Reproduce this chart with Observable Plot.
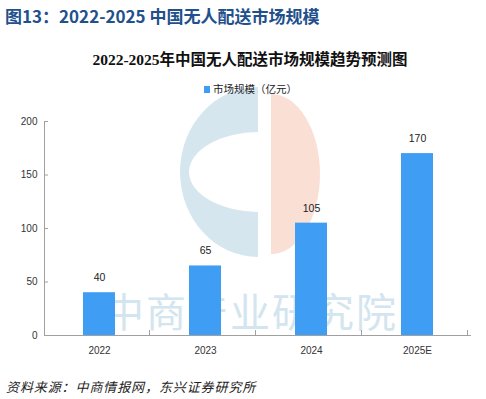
<!DOCTYPE html>
<html><head><meta charset="utf-8">
<script src="https://cdn.jsdelivr.net/npm/d3@7"></script>
<script src="https://cdn.jsdelivr.net/npm/@observablehq/plot@0.6"></script>
<style>
body{margin:0;background:#fff;}
#wrap{position:relative;width:486px;height:399px;overflow:hidden;font-family:"Noto Sans CJK SC",sans-serif;}
.abs{position:absolute;white-space:nowrap;}
#t1{left:5px;top:3px;font-size:17px;font-weight:bold;color:#22508C;}
#t2{left:0;width:500px;text-align:center;top:47px;font-size:15.5px;font-weight:bold;color:#111;font-family:"Liberation Serif","Noto Sans CJK SC",serif;}
#leg{left:204px;top:81px;font-size:10.5px;color:#222;}
#leg span{display:inline-block;width:6px;height:7px;background:#3F9EF4;margin-right:3px;vertical-align:0px;}
#src{left:6px;top:377px;font-size:13px;font-style:italic;color:#222;letter-spacing:0.9px;}
#wm{position:absolute;left:0;top:0;}
#chart{position:absolute;left:0;top:0;}
</style></head>
<body><div id="wrap">
<svg id="wm" width="486" height="399">
  <defs><clipPath id="lh"><rect x="0" y="0" width="258" height="399"/></clipPath>
  <clipPath id="rh"><rect x="271" y="0" width="215" height="399"/></clipPath>
  <mask id="cut"><rect x="0" y="0" width="486" height="399" fill="#fff"/><ellipse cx="260" cy="172" rx="71" ry="40" fill="#000"/></mask></defs>
  <ellipse cx="258" cy="172" rx="78" ry="85" fill="#D6E6EF" clip-path="url(#lh)" mask="url(#cut)"/>
  <ellipse cx="271" cy="174" rx="49" ry="80" fill="#FADFD4" clip-path="url(#rh)"/>
  <text x="251" y="327" text-anchor="middle" font-size="40" font-family="Noto Sans CJK SC" fill="#D3E5EF" letter-spacing="2">中商产业研究院</text>
</svg>
<div id="chart"></div>
<div class="abs" id="t1">图13：2022-2025 中国无人配送市场规模</div>
<div class="abs" id="t2">2022-2025年中国无人配送市场规模趋势预测图</div>
<div class="abs" id="leg"><span></span>市场规模（亿元）</div>
<div class="abs" id="src">资料来源：中商情报网，东兴证券研究所</div>
</div>
<script>
const categories = ["2022","2023","2024","2025E"];
const values = [40, 65, 105, 170];
const yTicks = [0, 50, 100, 150, 200];
const data = categories.map((c,i)=>({year:c, value:values[i]}));

const W = 486, H = 399;
const mL = 44, mR = 15, mT = 121, mB = 64;

const plot = Plot.plot({
  width: W, height: H,
  marginLeft: mL, marginRight: mR, marginTop: mT, marginBottom: mB,
  style: {background: "transparent", fontFamily: "'Liberation Sans', 'DejaVu Sans', sans-serif"},
  x: {domain: categories, paddingInner: 0.7, paddingOuter: 0.35, label: null},
  y: {domain: [0, 200], label: null},
  marks: [
    Plot.barY(data, {x: "year", y: "value", fill: "#3F9EF4"}),
    Plot.text(data, {x: "year", y: "value", text: d => String(d.value), dy: -15, fontSize: 10.5, fill: "#222"}),
    Plot.axisY({ticks: yTicks, tickSize: 0, tickPadding: 7, fontSize: 10, color: "#333"}),
    Plot.axisX({tickSize: 0, tickPadding: 11, fontSize: 10, color: "#333"}),
    Plot.ruleY([0], {stroke: "#a0a0a0", strokeWidth: 1})
  ]
});
document.getElementById("chart").appendChild(plot);

// axis line + inward ticks, drawn from the plot's own scales
const xs = plot.scale("x"), ys = plot.scale("y");
const x0 = xs.range[0];
const yPx = v => ys.range[0] + (v - ys.domain[0]) / (ys.domain[1] - ys.domain[0]) * (ys.range[1] - ys.range[0]);
const svg = d3.select(plot);
const g = svg.append("g").attr("stroke", "#a0a0a0").attr("stroke-width", 1);
g.append("line").attr("x1", x0+0.5).attr("x2", x0+0.5).attr("y1", yPx(0)).attr("y2", yPx(200));
yTicks.forEach(t => g.append("line").attr("x1", x0).attr("x2", x0+4).attr("y1", yPx(t)+0.5).attr("y2", yPx(t)+0.5));
categories.forEach((c,i) => {
  const bx = x0 + (i+1) * xs.step;
  g.append("line").attr("x1", bx-0.5).attr("x2", bx-0.5).attr("y1", yPx(0)).attr("y2", yPx(0)-5);
});
</script>
</body></html>
